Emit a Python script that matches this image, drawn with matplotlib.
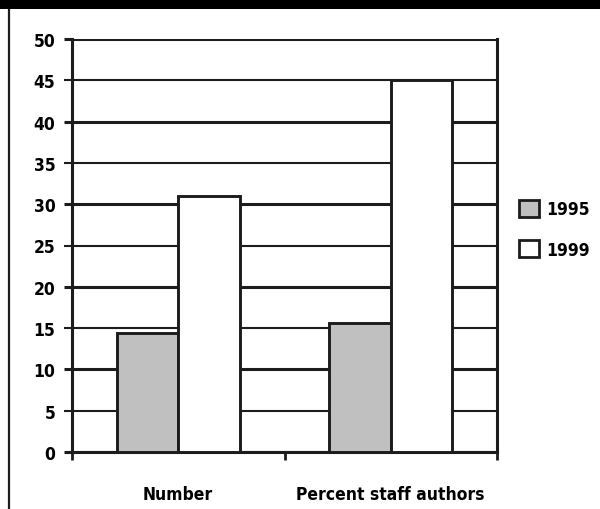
import matplotlib
matplotlib.use("Agg")
from matplotlib import pyplot as plt
from matplotlib.patches import Rectangle, Patch
from matplotlib.lines import Line2D
import numpy as np

categories = ["Number", "Percent staff authors"]
years = ["1995", "1999"]
vals_1995 = [14.4, 15.6]
vals_1999 = [31.0, 45.0]
yticks_major = [0, 10, 20, 30, 40, 50]
yticks_minor = [5, 15, 25, 35, 45]

ink = "#1c1c1c"
grey = "#c0c0c0"

plt.rcParams['font.family'] = ['DejaVu Sans']
plt.rcParams['font.stretch'] = 'condensed'
plt.rcParams['font.weight'] = 'bold'

fig = plt.figure(figsize=(6, 5.1), dpi=100)

# black strip along the top and the frame line on the left
fig.patches.append(Rectangle((0, 1 - 10 / 510), 1, 10 / 510, transform=fig.transFigure,
                             facecolor="black", edgecolor="none", zorder=5))
fig.lines.append(Line2D([9 / 600, 9 / 600], [0, 1 - 10 / 510], transform=fig.transFigure,
                        color=ink, lw=1.6))

ax = fig.add_axes([72 / 600, 1 - 453 / 510, 425 / 600, 413 / 510])

x = np.arange(len(categories))
w = 0.29
ax.bar(x - w / 2, vals_1995, w, color=grey, edgecolor=ink, linewidth=2.1, zorder=3, label=years[0])
ax.bar(x + w / 2, vals_1999, w, color="white", edgecolor=ink, linewidth=2.1, zorder=3, label=years[1])

ax.set_xlim(-0.5, 1.5)
ax.set_ylim(0, 50)

# thick lines at the tens, thinner ones at the fives
ax.set_yticks(yticks_major)
ax.set_yticks(yticks_minor, minor=True)
ax.set_yticklabels([str(v) for v in yticks_major])
ax.set_yticklabels([str(v) for v in yticks_minor], minor=True)
ax.grid(axis="y", which="major", color=ink, lw=2.2, zorder=1)
ax.grid(axis="y", which="minor", color=ink, lw=1.5, zorder=1)
ax.tick_params(axis="y", which="major", length=6, width=2.2, color=ink, pad=6, labelsize=12.5)
ax.tick_params(axis="y", which="minor", length=6, width=1.5, color=ink, pad=6, labelsize=12.5)

ax.set_xticks(x)
ax.set_xticklabels(categories)
ax.set_xticks([-0.5, 0.5, 1.5], minor=True)
ax.tick_params(axis="x", which="major", length=0, pad=24, labelsize=12.5)
ax.tick_params(axis="x", which="minor", length=6, width=2.0, color=ink)

for side in ["left", "right", "bottom"]:
    ax.spines[side].set_color(ink)
    ax.spines[side].set_linewidth(2.2)
ax.spines["top"].set_visible(False)

handles = [Patch(facecolor=grey, edgecolor=ink, linewidth=2.0),
           Patch(facecolor="white", edgecolor=ink, linewidth=2.0)]
ax.legend(handles, years, loc="upper left", bbox_to_anchor=(519 / 600, 1 - 201 / 510),
          bbox_transform=fig.transFigure, frameon=False, fontsize=12.5,
          handlelength=1.15, handleheight=1.15, handletextpad=0.4, labelspacing=1.25,
          borderpad=0, borderaxespad=0)

fig.savefig("out.png", dpi=100)
